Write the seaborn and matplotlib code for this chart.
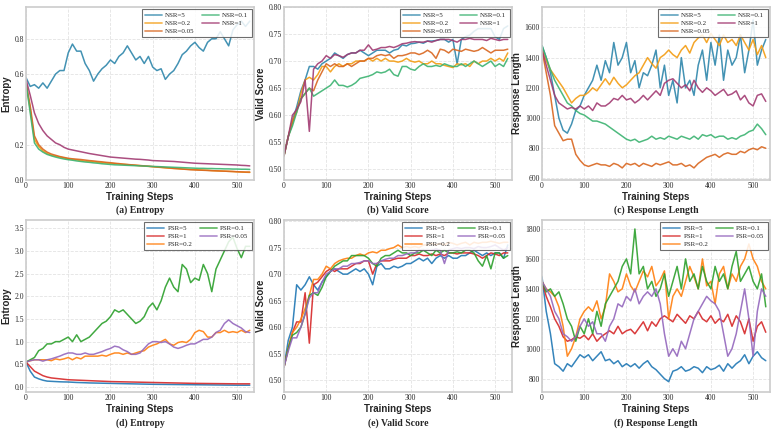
import pandas as pd
import matplotlib
matplotlib.use('Agg')
import matplotlib.pyplot as plt
import seaborn as sns

# training steps (every 10 steps)
steps = list(range(0, 531, 10))

# (a) entropy, NSR runs
ent_nsr5 = [0.58,0.53,0.54,0.52,0.55,0.52,0.56,0.60,0.62,0.62, 0.72,0.77,0.73,0.73,0.66,0.62,0.56,0.60,0.63,0.65,
            0.68,0.66,0.70,0.72,0.76,0.72,0.68,0.70,0.66,0.70, 0.64,0.62,0.63,0.57,0.60,0.62,0.66,0.71,0.73,0.76,
            0.78,0.75,0.73,0.78,0.80,0.80,0.84,0.80,0.76,0.85, 0.88,0.90,0.87,0.90]
ent_nsr02 = [0.55,0.40,0.23,0.19,0.165,0.15,0.14,0.135,0.13,0.125, 0.12,0.117,0.114,0.11,0.107,0.105,0.103,0.1,0.098,0.096,
             0.095,0.093,0.091,0.089,0.087,0.085,0.083,0.081,0.079,0.077, 0.075,0.073,0.071,0.069,0.067,0.065,0.064,0.062,0.061,0.060,
             0.059,0.057,0.056,0.055,0.053,0.052,0.051,0.050,0.049,0.048, 0.046,0.045,0.044,0.043]
ent_nsr005 = [0.55,0.42,0.25,0.20,0.175,0.158,0.147,0.14,0.133,0.128, 0.123,0.12,0.118,0.116,0.113,0.11,0.108,0.105,0.103,0.1,
              0.098,0.095,0.093,0.09,0.088,0.086,0.084,0.082,0.08,0.078, 0.076,0.074,0.072,0.07,0.068,0.066,0.064,0.062,0.06,0.058,
              0.057,0.056,0.055,0.054,0.053,0.052,0.051,0.05,0.049,0.048, 0.047,0.046,0.045,0.045]
ent_nsr01 = [0.55,0.38,0.21,0.175,0.158,0.145,0.137,0.13,0.124,0.119, 0.115,0.112,0.108,0.105,0.102,0.1,0.097,0.095,0.092,0.09,
             0.088,0.086,0.085,0.084,0.083,0.082,0.081,0.08,0.079,0.078, 0.077,0.076,0.075,0.074,0.073,0.072,0.071,0.07,0.069,0.068,
             0.067,0.066,0.066,0.065,0.065,0.064,0.064,0.063,0.063,0.062, 0.062,0.061,0.061,0.06]
ent_nsr1 = [0.57,0.48,0.38,0.32,0.28,0.25,0.23,0.21,0.20,0.185, 0.175,0.17,0.165,0.16,0.155,0.15,0.146,0.142,0.138,0.134,
            0.13,0.128,0.126,0.124,0.122,0.12,0.118,0.117,0.115,0.113, 0.11,0.109,0.108,0.107,0.106,0.105,0.103,0.101,0.099,0.097,
            0.095,0.094,0.093,0.092,0.091,0.09,0.089,0.088,0.087,0.086, 0.085,0.083,0.082,0.08]

# (b) valid score, NSR runs
vs_nsr5 = [0.525,0.56,0.59,0.615,0.645,0.665,0.69,0.69,0.685,0.695, 0.70,0.705,0.715,0.71,0.705,0.712,0.715,0.715,0.72,0.715,
           0.71,0.715,0.72,0.72,0.72,0.715,0.72,0.722,0.73,0.728, 0.732,0.733,0.735,0.733,0.737,0.737,0.738,0.74,0.74,0.735,
           0.74,0.695,0.74,0.745,0.748,0.755,0.76,0.76,0.76,0.76, 0.745,0.74,0.76,0.765]
vs_nsr02 = [0.525,0.56,0.59,0.605,0.64,0.665,0.67,0.665,0.675,0.69, 0.69,0.68,0.69,0.695,0.69,0.695,0.695,0.70,0.70,0.70,
            0.705,0.70,0.705,0.70,0.705,0.70,0.70,0.698,0.70,0.705, 0.70,0.698,0.70,0.695,0.695,0.70,0.695,0.695,0.692,0.69,
            0.688,0.695,0.693,0.695,0.69,0.70,0.695,0.70,0.70,0.705, 0.70,0.705,0.70,0.715]
vs_nsr005 = [0.525,0.56,0.585,0.61,0.63,0.64,0.65,0.645,0.665,0.68, 0.695,0.69,0.695,0.69,0.69,0.695,0.69,0.695,0.70,0.70,
             0.705,0.705,0.71,0.712,0.71,0.712,0.705,0.71,0.71,0.712, 0.715,0.715,0.712,0.715,0.72,0.715,0.705,0.722,0.72,0.715,
             0.722,0.72,0.718,0.722,0.72,0.718,0.72,0.725,0.72,0.715, 0.72,0.72,0.72,0.722]
vs_nsr01 = [0.525,0.56,0.58,0.605,0.63,0.64,0.65,0.635,0.64,0.645, 0.65,0.655,0.665,0.655,0.655,0.652,0.655,0.66,0.668,0.67,
            0.672,0.675,0.68,0.678,0.68,0.685,0.675,0.672,0.69,0.69, 0.685,0.683,0.69,0.695,0.69,0.69,0.692,0.69,0.695,0.692,
            0.69,0.69,0.695,0.69,0.695,0.70,0.695,0.69,0.695,0.70, 0.69,0.695,0.69,0.705]
vs_nsr1 = [0.525,0.56,0.60,0.61,0.625,0.665,0.57,0.685,0.695,0.70, 0.71,0.705,0.712,0.71,0.707,0.712,0.715,0.715,0.72,0.72,
           0.73,0.72,0.722,0.725,0.725,0.727,0.725,0.728,0.732,0.733, 0.735,0.736,0.735,0.735,0.737,0.735,0.738,0.74,0.74,0.74,
           0.738,0.735,0.74,0.74,0.742,0.74,0.74,0.74,0.738,0.742, 0.74,0.738,0.74,0.74]

# (c) response length, NSR runs
rl_nsr5 = [1480,1400,1300,1150,1000,920,900,960,1050,1080, 1150,1200,1250,1350,1250,1380,1300,1500,1350,1400,
           1500,1300,1380,1200,1300,1280,1350,1450,1200,1350, 1150,1250,1100,1400,1200,1250,1150,1350,1450,1250,
           1500,1350,1550,1250,1450,1350,1400,1550,1300,1450, 1650,1350,1450,1520]
rl_nsr02 = [1450,1380,1320,1280,1240,1200,1150,1100,1130,1150, 1150,1170,1200,1180,1220,1260,1220,1270,1230,1200,
            1220,1250,1280,1300,1350,1400,1360,1330,1400,1420, 1450,1420,1400,1450,1480,1430,1500,1530,1550,1500,
            1560,1520,1480,1550,1500,1520,1480,1550,1500,1450, 1520,1420,1480,1400]
rl_nsr005 = [1450,1300,1150,950,900,850,860,860,760,720, 690,680,690,700,690,690,680,700,690,670,
             700,690,700,680,700,690,680,700,690,700, 710,690,690,700,680,690,670,700,720,740,
             750,760,740,760,770,760,760,780,770,790, 800,790,810,800]
rl_nsr01 = [1480,1400,1320,1250,1200,1150,1100,1080,1050,1030, 1020,1000,980,980,970,960,940,920,900,880,
            860,850,860,840,850,860,880,860,870,860, 880,870,860,880,870,860,880,860,890,880,
            890,870,880,880,860,870,860,880,890,910, 920,960,930,890]
rl_nsr1 = [1450,1350,1250,1150,1100,1080,1060,1070,1060,1080, 1060,1080,1050,1100,1080,1080,1100,1130,1120,1150,
           1120,1130,1100,1120,1150,1120,1150,1180,1150,1230, 1250,1260,1230,1200,1220,1180,1250,1200,1170,1200,
           1180,1150,1170,1190,1150,1160,1180,1120,1150,1100, 1080,1150,1160,1110]

# (d) entropy, PSR runs
ent_psr5 = [0.55,0.35,0.22,0.18,0.15,0.13,0.125,0.12,0.115,0.112, 0.11,0.105,0.10,0.097,0.094,0.09,0.088,0.086,0.084,0.082,
            0.08,0.078,0.076,0.074,0.072,0.07,0.068,0.066,0.064,0.062, 0.06,0.059,0.058,0.057,0.056,0.055,0.054,0.053,0.052,0.051,
            0.05,0.049,0.048,0.047,0.046,0.045,0.044,0.043,0.042,0.041, 0.04,0.04,0.04,0.04]
ent_psr1 = [0.55,0.45,0.35,0.30,0.25,0.22,0.20,0.19,0.18,0.17, 0.16,0.156,0.152,0.148,0.144,0.14,0.136,0.132,0.128,0.124,
            0.12,0.118,0.116,0.114,0.112,0.11,0.108,0.106,0.104,0.102, 0.10,0.098,0.096,0.094,0.092,0.09,0.088,0.086,0.084,0.082,
            0.08,0.079,0.078,0.077,0.076,0.075,0.074,0.073,0.072,0.071, 0.07,0.07,0.07,0.07]
ent_psr02 = [0.55,0.58,0.6,0.6,0.6,0.6,0.58,0.62,0.6,0.62, 0.65,0.6,0.65,0.62,0.68,0.68,0.68,0.68,0.7,0.68,
             0.72,0.75,0.75,0.72,0.75,0.72,0.75,0.78,0.8,0.88, 0.92,0.95,1.0,1.05,0.95,0.92,0.98,1.0,0.98,1.05,
             1.2,1.25,1.22,1.1,1.1,1.2,1.2,1.25,1.2,1.22, 1.2,1.25,1.2,1.25]
ent_psr01 = [0.55,0.6,0.65,0.8,0.85,0.95,0.95,1.0,1.0,1.05, 1.1,1.0,1.15,1.0,1.05,1.1,1.2,1.3,1.4,1.45,
             1.55,1.7,1.65,1.7,1.6,1.5,1.4,1.45,1.55,1.75, 1.85,1.7,1.9,2.2,2.4,2.2,2.1,2.7,2.6,2.3,
             2.4,2.35,2.7,2.5,2.1,2.6,2.8,3.0,3.2,3.3, 3.05,2.85,3.1,3.1]
ent_psr005 = [0.55,0.58,0.6,0.6,0.57,0.6,0.62,0.65,0.68,0.72, 0.75,0.75,0.72,0.72,0.75,0.72,0.72,0.75,0.78,0.82,
              0.85,0.9,0.88,0.82,0.78,0.72,0.72,0.75,0.85,0.95, 1.0,1.0,0.98,1.0,0.95,0.88,0.85,0.88,0.92,0.95,
              0.95,1.0,1.05,1.05,1.1,1.2,1.25,1.4,1.48,1.4, 1.35,1.3,1.22,1.2]

# (e) valid score, PSR runs
vs_psr5 = [0.525,0.575,0.60,0.68,0.67,0.68,0.695,0.68,0.67,0.685, 0.695,0.705,0.71,0.705,0.70,0.70,0.705,0.71,0.705,0.71,
           0.70,0.68,0.715,0.72,0.71,0.71,0.715,0.712,0.715,0.72, 0.72,0.725,0.73,0.725,0.73,0.72,0.73,0.735,0.73,0.735,
           0.73,0.73,0.735,0.735,0.74,0.745,0.74,0.735,0.74,0.735, 0.74,0.74,0.73,0.755]
vs_psr1 = [0.525,0.56,0.59,0.61,0.61,0.665,0.57,0.68,0.685,0.695, 0.705,0.71,0.705,0.71,0.71,0.71,0.715,0.72,0.72,0.725,
           0.725,0.70,0.72,0.725,0.725,0.725,0.728,0.73,0.73,0.73, 0.735,0.735,0.738,0.735,0.735,0.738,0.735,0.738,0.735,0.74,
           0.74,0.738,0.74,0.74,0.74,0.738,0.735,0.73,0.735,0.74, 0.738,0.735,0.74,0.74]
vs_psr02 = [0.525,0.56,0.59,0.60,0.615,0.635,0.66,0.69,0.69,0.70, 0.715,0.71,0.72,0.725,0.728,0.73,0.73,0.735,0.738,0.735,
            0.74,0.742,0.74,0.745,0.745,0.748,0.75,0.755,0.75,0.752, 0.75,0.752,0.75,0.755,0.755,0.758,0.755,0.758,0.755,0.76,
            0.758,0.755,0.758,0.76,0.755,0.76,0.758,0.76,0.76,0.762, 0.76,0.758,0.76,0.76]
vs_psr01 = [0.525,0.56,0.585,0.59,0.60,0.625,0.66,0.665,0.66,0.675, 0.695,0.705,0.715,0.72,0.725,0.725,0.735,0.735,0.735,0.735,
            0.73,0.72,0.715,0.73,0.735,0.735,0.74,0.745,0.74,0.74, 0.735,0.74,0.74,0.745,0.74,0.735,0.745,0.74,0.745,0.74,
            0.74,0.742,0.74,0.745,0.745,0.74,0.725,0.715,0.735,0.71, 0.74,0.74,0.73,0.735]
vs_psr005 = [0.525,0.555,0.58,0.58,0.60,0.625,0.655,0.665,0.665,0.685, 0.70,0.705,0.71,0.71,0.715,0.715,0.72,0.72,0.722,0.725,
             0.725,0.72,0.72,0.725,0.728,0.73,0.73,0.735,0.735,0.738, 0.74,0.74,0.745,0.745,0.745,0.745,0.748,0.745,0.72,0.745,
             0.748,0.75,0.748,0.75,0.75,0.748,0.752,0.75,0.75,0.752, 0.755,0.75,0.745,0.75]

# (f) response length, PSR runs
rl_psr5 = [1480,1250,1100,900,880,850,900,880,920,960, 940,960,920,950,980,920,930,900,920,880,
           900,880,900,870,900,920,880,860,830,800, 780,850,860,880,850,860,880,870,840,880,
           860,870,890,850,900,870,900,920,960,900, 950,980,940,920]
rl_psr1 = [1450,1350,1280,1200,1150,1080,1050,1060,1080,1070, 1090,1060,1100,1050,1080,1100,1120,1100,1150,1100,
           1120,1130,1100,1140,1180,1120,1180,1150,1200,1220, 1200,1180,1230,1200,1170,1220,1200,1250,1200,1180,
           1220,1170,1200,1180,1230,1150,1220,1180,1100,1200, 1050,1150,1180,1110]
rl_psr02 = [1450,1400,1380,1350,1280,1150,950,1000,1080,1200, 1250,1280,1250,1320,1200,1280,1500,1450,1380,1400,
            1500,1420,1380,1450,1520,1480,1550,1420,1460,1520, 1200,1350,1400,1350,1450,1550,1480,1400,1600,1420,
            1450,1300,1500,1550,1400,1500,1450,1550,1600,1700, 1600,1550,1450,1400]
rl_psr01 = [1450,1380,1400,1350,1380,1300,1200,1150,1050,1150, 1100,1200,1100,1250,1150,1300,1350,1400,1450,1550,
            1600,1500,1800,1500,1550,1400,1450,1350,1400,1500, 1350,1450,1550,1400,1600,1450,1500,1400,1550,1450,
            1400,1550,1450,1500,1400,1550,1650,1450,1500,1550, 1450,1400,1500,1280]
rl_psr005 = [1450,1400,1350,1250,1200,1100,1080,1050,1080,1150, 1200,1150,1180,1100,1100,1050,1150,1200,1300,1280,
             1350,1320,1400,1300,1350,1380,1350,1400,1300,1100, 950,1000,950,1050,1000,1100,1200,1250,1300,1350,
             1320,1300,1250,1100,950,1000,1100,1250,1400,1200, 950,1250,1400,1350]

nsr_labels = ['NSR=5', 'NSR=0.2', 'NSR=0.05', 'NSR=0.1', 'NSR=1']
nsr_colors = ['#2E86AB', '#F39C12', '#D9661F', '#3CB371', '#A23B72']
psr_labels = ['PSR=5', 'PSR=1', 'PSR=0.2', 'PSR=0.1', 'PSR=0.05']
psr_colors = ['#1f77b4', '#d62728', '#ff7f0e', '#2ca02c', '#9467bd']

panels = [
    ('(a) Entropy', 'Entropy', nsr_labels, nsr_colors,
     [ent_nsr5, ent_nsr02, ent_nsr005, ent_nsr01, ent_nsr1], (0, 0.98), [0, 0.2, 0.4, 0.6, 0.8], '{:.1f}'),
    ('(b) Valid Score', 'Valid Score', nsr_labels, nsr_colors,
     [vs_nsr5, vs_nsr02, vs_nsr005, vs_nsr01, vs_nsr1], (0.48, 0.80), [0.5, 0.55, 0.6, 0.65, 0.7, 0.75, 0.8], '{:.2f}'),
    ('(c) Response Length', 'Response Length', nsr_labels, nsr_colors,
     [rl_nsr5, rl_nsr02, rl_nsr005, rl_nsr01, rl_nsr1], (590, 1735), [600, 800, 1000, 1200, 1400, 1600], '{:.0f}'),
    ('(d) Entropy', 'Entropy', psr_labels, psr_colors,
     [ent_psr5, ent_psr1, ent_psr02, ent_psr01, ent_psr005], (-0.11, 3.68), [0, 0.5, 1, 1.5, 2, 2.5, 3, 3.5], '{:.1f}'),
    ('(e) Valid Score', 'Valid Score', psr_labels, psr_colors,
     [vs_psr5, vs_psr1, vs_psr02, vs_psr01, vs_psr005], (0.478, 0.802), [0.5, 0.55, 0.6, 0.65, 0.7, 0.75, 0.8], '{:.2f}'),
    ('(f) Response Length', 'Response Length', psr_labels, psr_colors,
     [rl_psr5, rl_psr1, rl_psr02, rl_psr01, rl_psr005], (711, 1860), [800, 1000, 1200, 1400, 1600, 1800], '{:.0f}'),
]

sns.set_style('whitegrid')
plt.rcParams['font.family'] = ['Liberation Serif', 'DejaVu Serif']

W, H = 777, 434
fig = plt.figure(figsize=(W / 100, H / 100), dpi=100)

lefts = [26, 284, 542]
rows = [(7, 180, 210), (220, 392, 423)]  # top, bottom, caption y (pixels)
ax_w = 228

for i, (caption, ylabel, labels, colors, series, ylim, yticks, fmt) in enumerate(panels):
    r, c = divmod(i, 3)
    top, bottom, cap_y = rows[r]
    ax = fig.add_axes([lefts[c] / W, 1 - bottom / H, ax_w / W, (bottom - top) / H])

    df = pd.concat([pd.DataFrame({'step': steps, 'value': s, 'run': lab})
                    for s, lab in zip(series, labels)])
    sns.lineplot(data=df, x='step', y='value', hue='run', hue_order=labels,
                 palette=colors, linewidth=1.1, alpha=0.9, ax=ax, legend=False)

    # legend handles (drawn lighter, like the original)
    for lab, col in zip(labels, colors):
        ax.plot([], [], color=col, linewidth=1.3, alpha=0.7, label=lab)
    leg = ax.legend(loc='upper right', ncol=2, fontsize=5, frameon=True, fancybox=False,
                    borderpad=0.45, handlelength=2.4, columnspacing=1.1, labelspacing=0.3,
                    handletextpad=0.5, borderaxespad=0.35, framealpha=0.85)
    leg.get_frame().set_edgecolor('#555555')
    leg.get_frame().set_linewidth(0.8)

    ax.set_xlim(0, 540)
    ax.set_ylim(*ylim)
    ax.set_xticks([0, 100, 200, 300, 400, 500])
    ax.set_yticks(yticks)
    ax.set_yticklabels([fmt.format(v) for v in yticks])
    ax.tick_params(labelsize=5.5, pad=1.5, length=0)
    ax.grid(True, linestyle='--', color='#e3e3e3', linewidth=0.6)
    for sp in ax.spines.values():
        sp.set_color('#cccccc')
        sp.set_linewidth(1.2)

    ax.set_xlabel('Training Steps', family=['Liberation Sans', 'DejaVu Sans'],
                  fontweight='bold', fontsize=7, labelpad=1.5)
    ax.set_ylabel(ylabel, family=['Liberation Sans', 'DejaVu Sans'],
                  fontweight='bold', fontsize=7, labelpad=2)

    fig.text((lefts[c] + ax_w / 2) / W, 1 - cap_y / H, caption, ha='center', va='center',
             fontsize=7, fontweight='bold')

fig.savefig('out.png', dpi=100)
